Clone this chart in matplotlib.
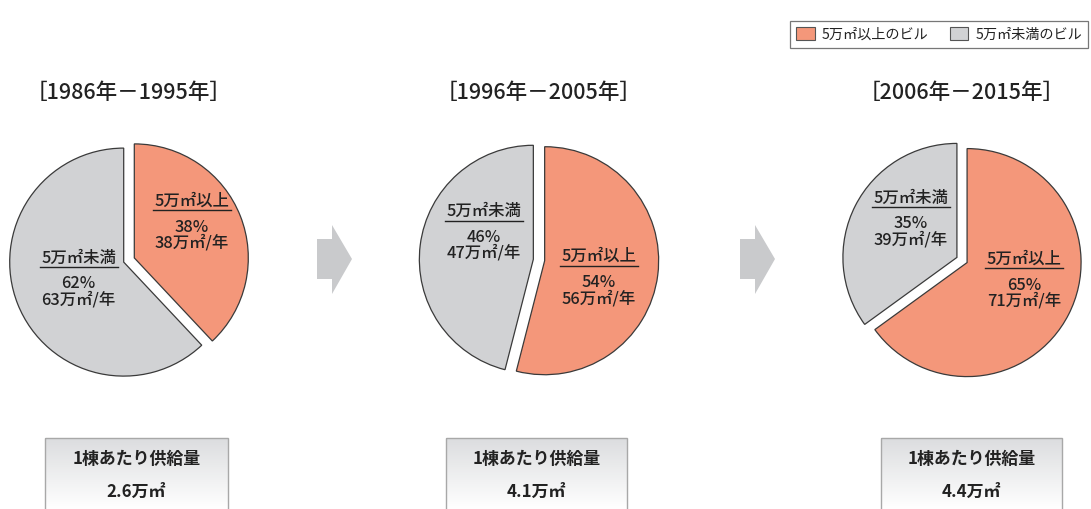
import numpy as np
import matplotlib
matplotlib.use("Agg")
import matplotlib.pyplot as plt
from matplotlib.patches import Polygon, Rectangle, Patch

plt.rcParams['font.family'] = ['Noto Sans CJK JP', 'DejaVu Sans']

# data
periods = ["［1986年－1995年］", "［1996年－2005年］", "［2006年－2015年］"]
big_share = [38, 54, 65]        # 5万㎡以上 (%)
small_share = [62, 46, 35]      # 5万㎡未満 (%)
big_volume = [38, 56, 71]       # 万㎡/年
small_volume = [63, 47, 39]     # 万㎡/年
per_building = [2.6, 4.1, 4.4]  # 万㎡
legend_labels = ["5万㎡以上のビル", "5万㎡未満のビル"]

c_big = "#f4977a"
c_small = "#d1d2d4"
c_text = "#222222"

W, H = 1091, 509
fig = plt.figure(figsize=(W / 100, H / 100), dpi=100)

# layout (pixels)
centers = [(129, 260), (539, 260), (962, 260)]
R = 114
lab_big = [(191.5, 201), (598.5, 256.5), (1024, 259)]
lab_small = [(78.5, 258), (484, 211.5), (911, 198)]
box_x = [(45, 228), (446, 627), (881, 1062)]

# pies
for i, (cx, cy) in enumerate(centers):
    half = 1.3 * R
    ax = fig.add_axes([(cx - half) / W, (H - cy - half) / H, 2 * half / W, 2 * half / H])
    ax.pie([big_share[i], small_share[i]], colors=[c_big, c_small], startangle=90,
           counterclock=False, explode=(0.05, 0.05),
           wedgeprops=dict(edgecolor="#3a3a3a", linewidth=0.9))
    ax.set_xlim(-1.3, 1.3)
    ax.set_ylim(-1.3, 1.3)
    ax.set_aspect("equal")
    ax.axis("off")

# overlay in pixel coordinates
ov = fig.add_axes([0, 0, 1, 1])
ov.set_xlim(0, W)
ov.set_ylim(H, 0)
ov.axis("off")
ov.patch.set_alpha(0)


def pie_label(x, y, head, pct, vol):
    kw = dict(ha="center", va="center", fontsize=11.8, color=c_text, fontweight="medium")
    ov.text(x, y, head, **kw)
    ov.plot([x - 39, x + 39], [y + 9, y + 9], color=c_text, lw=1.0)
    ov.text(x, y + 26, f"{pct}%", **kw)
    ov.text(x, y + 42, f"{vol}万㎡/年", **kw)


for i, (cx, cy) in enumerate(centers):
    ov.text(cx, 93, periods[i], ha="center", va="center", fontsize=15.5, color=c_text,
            fontweight="medium")
    pie_label(*lab_big[i], "5万㎡以上", big_share[i], big_volume[i])
    pie_label(*lab_small[i], "5万㎡未満", small_share[i], small_volume[i])

    # summary box with gradient
    x0, x1 = box_x[i]
    grad = np.linspace(0, 1, 100).reshape(-1, 1)
    ov.imshow(grad, cmap=matplotlib.colors.LinearSegmentedColormap.from_list(
        "g", ["#dcdddf", "#ffffff"]), extent=(x0, x1, H, 438), aspect="auto", zorder=1)
    ov.add_patch(Rectangle((x0, 438), x1 - x0, H - 438 + 5, fill=False,
                           edgecolor="#a8a8a8", lw=1.0, zorder=2))
    xm = (x0 + x1) / 2
    ov.text(xm, 459, "1棟あたり供給量", ha="center", va="center", fontsize=12.2,
            fontweight="bold", color=c_text, zorder=3)
    ov.text(xm, 492, f"{per_building[i]}万㎡", ha="center", va="center", fontsize=12.2,
            fontweight="bold", color=c_text, zorder=3)

# arrows between pies
for dx in [0, 423]:
    pts = np.array([[317, 239], [332, 239], [332, 225], [352, 259],
                    [332, 294], [332, 279], [317, 279]], dtype=float)
    pts[:, 0] += dx
    ov.add_patch(Polygon(pts, closed=True, facecolor="#c9cacc", edgecolor="none"))

ov.set_xlim(0, W)
ov.set_ylim(H, 0)

# legend
handles = [Patch(facecolor=c_big, edgecolor="#555555", lw=0.8),
           Patch(facecolor=c_small, edgecolor="#555555", lw=0.8)]
leg = fig.legend(handles, legend_labels, ncol=2, loc="upper right",
                 bbox_to_anchor=(1.004, 1 - 14 / H), fontsize=10.2, frameon=True,
                 fancybox=False, edgecolor="#555555", handlelength=1.3,
                 handleheight=1.0, columnspacing=1.5, handletextpad=0.5,
                 borderpad=0.45)
leg.get_frame().set_linewidth(0.9)
for t in leg.get_texts():
    t.set_color(c_text)

fig.savefig("out.png", dpi=100)
